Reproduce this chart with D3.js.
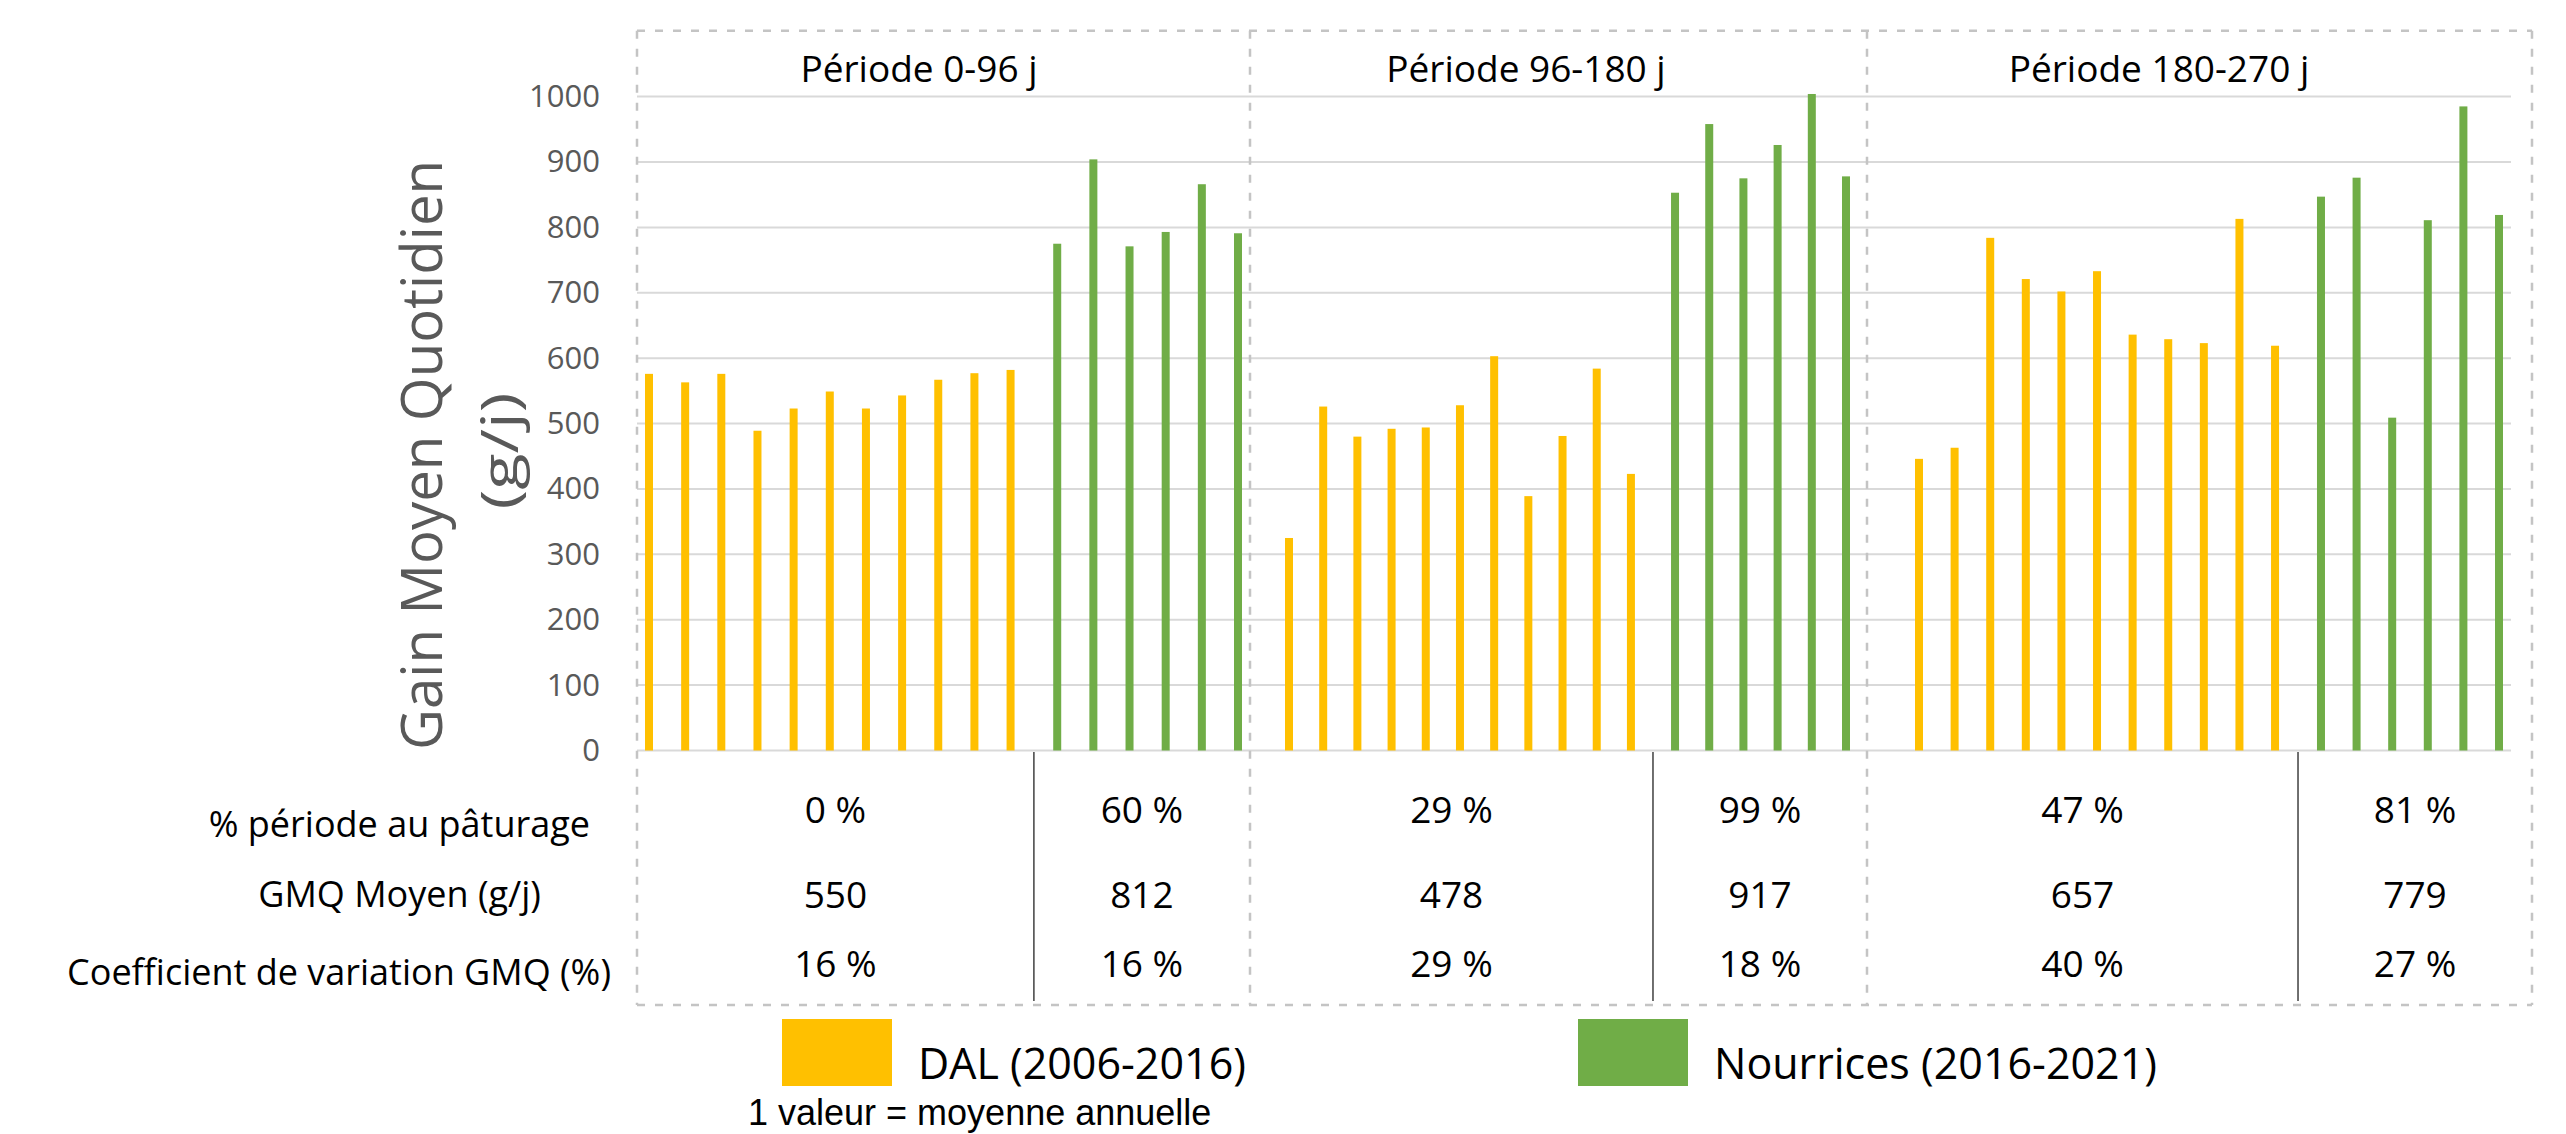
<!DOCTYPE html>
<meta charset="utf-8">
<style type="text/css">
  body { margin: 0; background: #ffffff; }
  svg text { font-family: 'Open Sans', 'DejaVu Sans', sans-serif; }
</style>
<script src="https://d3js.org/d3.v7.min.js"></script>
<body>
<div id="chart"></div>
</body>
<script>

// data (g/j, one value = yearly mean)
var periods = ["Période 0-96 j", "Période 96-180 j", "Période 180-270 j"]
var dal1 = [576, 563, 576, 489, 523, 549, 523, 543, 567, 577, 582]
var nou1 = [775, 904, 771, 793, 866, 791]
var dal2 = [325, 526, 480, 492, 494, 528, 603, 389, 481, 584, 423]
var nou2 = [853, 958, 875, 926, 1004, 878]
var dal3 = [446, 463, 784, 721, 702, 733, 636, 629, 623, 813, 619]
var nou3 = [847, 876, 509, 811, 985, 819]

var rowLabels = ["% période au pâturage", "GMQ Moyen (g/j)", "Coefficient de variation GMQ (%)"]
var pctPaturage = ["0 %", "60 %", "29 %", "99 %", "47 %", "81 %"]
var gmqMoyen = ["550", "812", "478", "917", "657", "779"]
var cvGmq = ["16 %", "16 %", "29 %", "18 %", "40 %", "27 %"]

var yTicks = [0, 100, 200, 300, 400, 500, 600, 700, 800, 900, 1000]
var seriesNames = ["DAL (2006-2016)", "Nourrices (2016-2021)"]
var footnote = "1 valeur = moyenne annuelle"

// layout
var width = 2566,
    height = 1134
var yellow = "#FFC000",
    green = "#70AD47"
var gap = 1.29   // extra spacing between the two groups, in bar steps
var barW = 8

var panels = [
  {title: periods[0], dal: dal1, nou: nou1, left: 637,  right: 1250, range: [649, 1238],  titleX: 919},
  {title: periods[1], dal: dal2, nou: nou2, left: 1250, right: 1867, range: [1289, 1846], titleX: 1526},
  {title: periods[2], dal: dal3, nou: nou3, left: 1867, right: 2532, range: [1919, 2499], titleX: 2159}
]

var svg = d3.select("#chart").append("svg")
    .attr("width", width)
    .attr("height", height)

var y = d3.scaleLinear().domain([0, 1000]).range([750.5, 96.6])

// gridlines
svg.append("g")
  .selectAll("line")
  .data(yTicks)
  .enter()
  .append("line")
    .attr("x1", 637)
    .attr("x2", 2511)
    .attr("y1", function(d){ return y(d) })
    .attr("y2", function(d){ return y(d) })
    .attr("stroke", "#d9d9d9")
    .attr("stroke-width", 2)

// y axis labels
var yAxis = svg.append("g")
    .attr("transform", "translate(637,0)")
    .call(d3.axisLeft(y).tickValues(yTicks).tickFormat(d3.format("d")).tickSize(0).tickPadding(37))
yAxis.select(".domain").remove()
yAxis.selectAll("text")
    .style("font-family", "'Open Sans', sans-serif")
    .style("font-size", "31px")
    .attr("fill", "#595959")

// y axis title
svg.append("text")
    .attr("transform", "translate(442,455) rotate(-90)")
    .attr("text-anchor", "middle")
    .attr("textLength", 590)
    .attr("lengthAdjust", "spacingAndGlyphs")
    .style("font-size", "57px")
    .attr("fill", "#595959")
    .text("Gain Moyen Quotidien")
svg.append("text")
    .attr("transform", "translate(518,451) rotate(-90)")
    .attr("text-anchor", "middle")
    .attr("textLength", 117)
    .attr("lengthAdjust", "spacingAndGlyphs")
    .style("font-size", "52px")
    .attr("fill", "#595959")
    .text("(g/j)")

var cells = []

panels.forEach(function(p, k){
  var x = d3.scaleLinear().domain([0, 10 + gap + 5]).range(p.range)
  var dalPos = p.dal.map(function(v, i){ return {pos: i, value: v} })
  var nouPos = p.nou.map(function(v, j){ return {pos: 10 + gap + j, value: v} })

  svg.append("g")
    .selectAll("rect")
    .data(dalPos)
    .enter()
    .append("rect")
      .attr("x", function(d){ return x(d.pos) - barW / 2 })
      .attr("y", function(d){ return y(d.value) })
      .attr("width", barW)
      .attr("height", function(d){ return y(0) - y(d.value) })
      .attr("fill", yellow)

  svg.append("g")
    .selectAll("rect")
    .data(nouPos)
    .enter()
    .append("rect")
      .attr("x", function(d){ return x(d.pos) - barW / 2 })
      .attr("y", function(d){ return y(d.value) })
      .attr("width", barW)
      .attr("height", function(d){ return y(0) - y(d.value) })
      .attr("fill", green)

  // separator between DAL and Nourrices in the table
  var mid = x(10 + gap / 2)
  svg.append("line")
      .attr("x1", mid).attr("x2", mid)
      .attr("y1", 752).attr("y2", 1001)
      .attr("stroke", "#404040")
      .attr("stroke-width", 1.5)

  cells.push((p.left + mid) / 2)
  cells.push((mid + p.right) / 2)

  svg.append("text")
      .attr("x", p.titleX)
      .attr("y", 81.5)
      .attr("text-anchor", "middle")
      .style("font-size", "37px")
      .attr("fill", "#000")
      .text(p.title)
})

// dashed frames
var dash = {stroke: "#c4c4c4", width: 2.5, array: "8,10"}
var vlines = [637, 1250, 1867, 2532]
svg.append("g")
  .selectAll("line")
  .data(vlines)
  .enter()
  .append("line")
    .attr("x1", function(d){ return d })
    .attr("x2", function(d){ return d })
    .attr("y1", 30.7)
    .attr("y2", 1005)
    .attr("stroke", dash.stroke)
    .attr("stroke-width", dash.width)
    .attr("stroke-dasharray", dash.array)
svg.append("g")
  .selectAll("line")
  .data([30.7, 1005])
  .enter()
  .append("line")
    .attr("x1", 637)
    .attr("x2", 2532)
    .attr("y1", function(d){ return d })
    .attr("y2", function(d){ return d })
    .attr("stroke", dash.stroke)
    .attr("stroke-width", dash.width)
    .attr("stroke-dasharray", dash.array)

// table rows
var rows = [
  {label: rowLabels[0], values: pctPaturage, labelEnd: 590, labelY: 837, valueY: 823},
  {label: rowLabels[1], values: gmqMoyen,    labelEnd: 541, labelY: 907, valueY: 908},
  {label: rowLabels[2], values: cvGmq,       labelEnd: 611, labelY: 985, valueY: 977}
]

rows.forEach(function(r){
  svg.append("text")
      .attr("x", r.labelEnd)
      .attr("y", r.labelY)
      .attr("text-anchor", "end")
      .style("font-size", "36px")
      .attr("fill", "#000")
      .text(r.label)

  svg.append("g")
    .selectAll("text")
    .data(r.values)
    .enter()
    .append("text")
      .attr("x", function(d, i){ return cells[i] })
      .attr("y", r.valueY)
      .attr("text-anchor", "middle")
      .style("font-size", "37px")
      .attr("fill", "#000")
      .text(function(d){ return d })
})

// legend
var legend = svg.append("g")
var legendItems = [
  {name: seriesNames[0], color: yellow, x: 782},
  {name: seriesNames[1], color: green,  x: 1578}
]
legend.selectAll("rect")
  .data(legendItems)
  .enter()
  .append("rect")
    .attr("x", function(d){ return d.x })
    .attr("y", 1019)
    .attr("width", 110)
    .attr("height", 67)
    .attr("fill", function(d){ return d.color })
legend.selectAll("text.lab")
  .data(legendItems)
  .enter()
  .append("text")
    .attr("class", "lab")
    .attr("x", function(d){ return d.x + 136 })
    .attr("y", 1079)
    .style("font-size", "43px")
    .attr("fill", "#000")
    .text(function(d){ return d.name })

svg.append("text")
    .attr("x", 748)
    .attr("y", 1125)
    .style("font-family", "'Liberation Sans', Arial, sans-serif")
    .style("font-size", "36px")
    .attr("fill", "#000")
    .text(footnote)

</script>
